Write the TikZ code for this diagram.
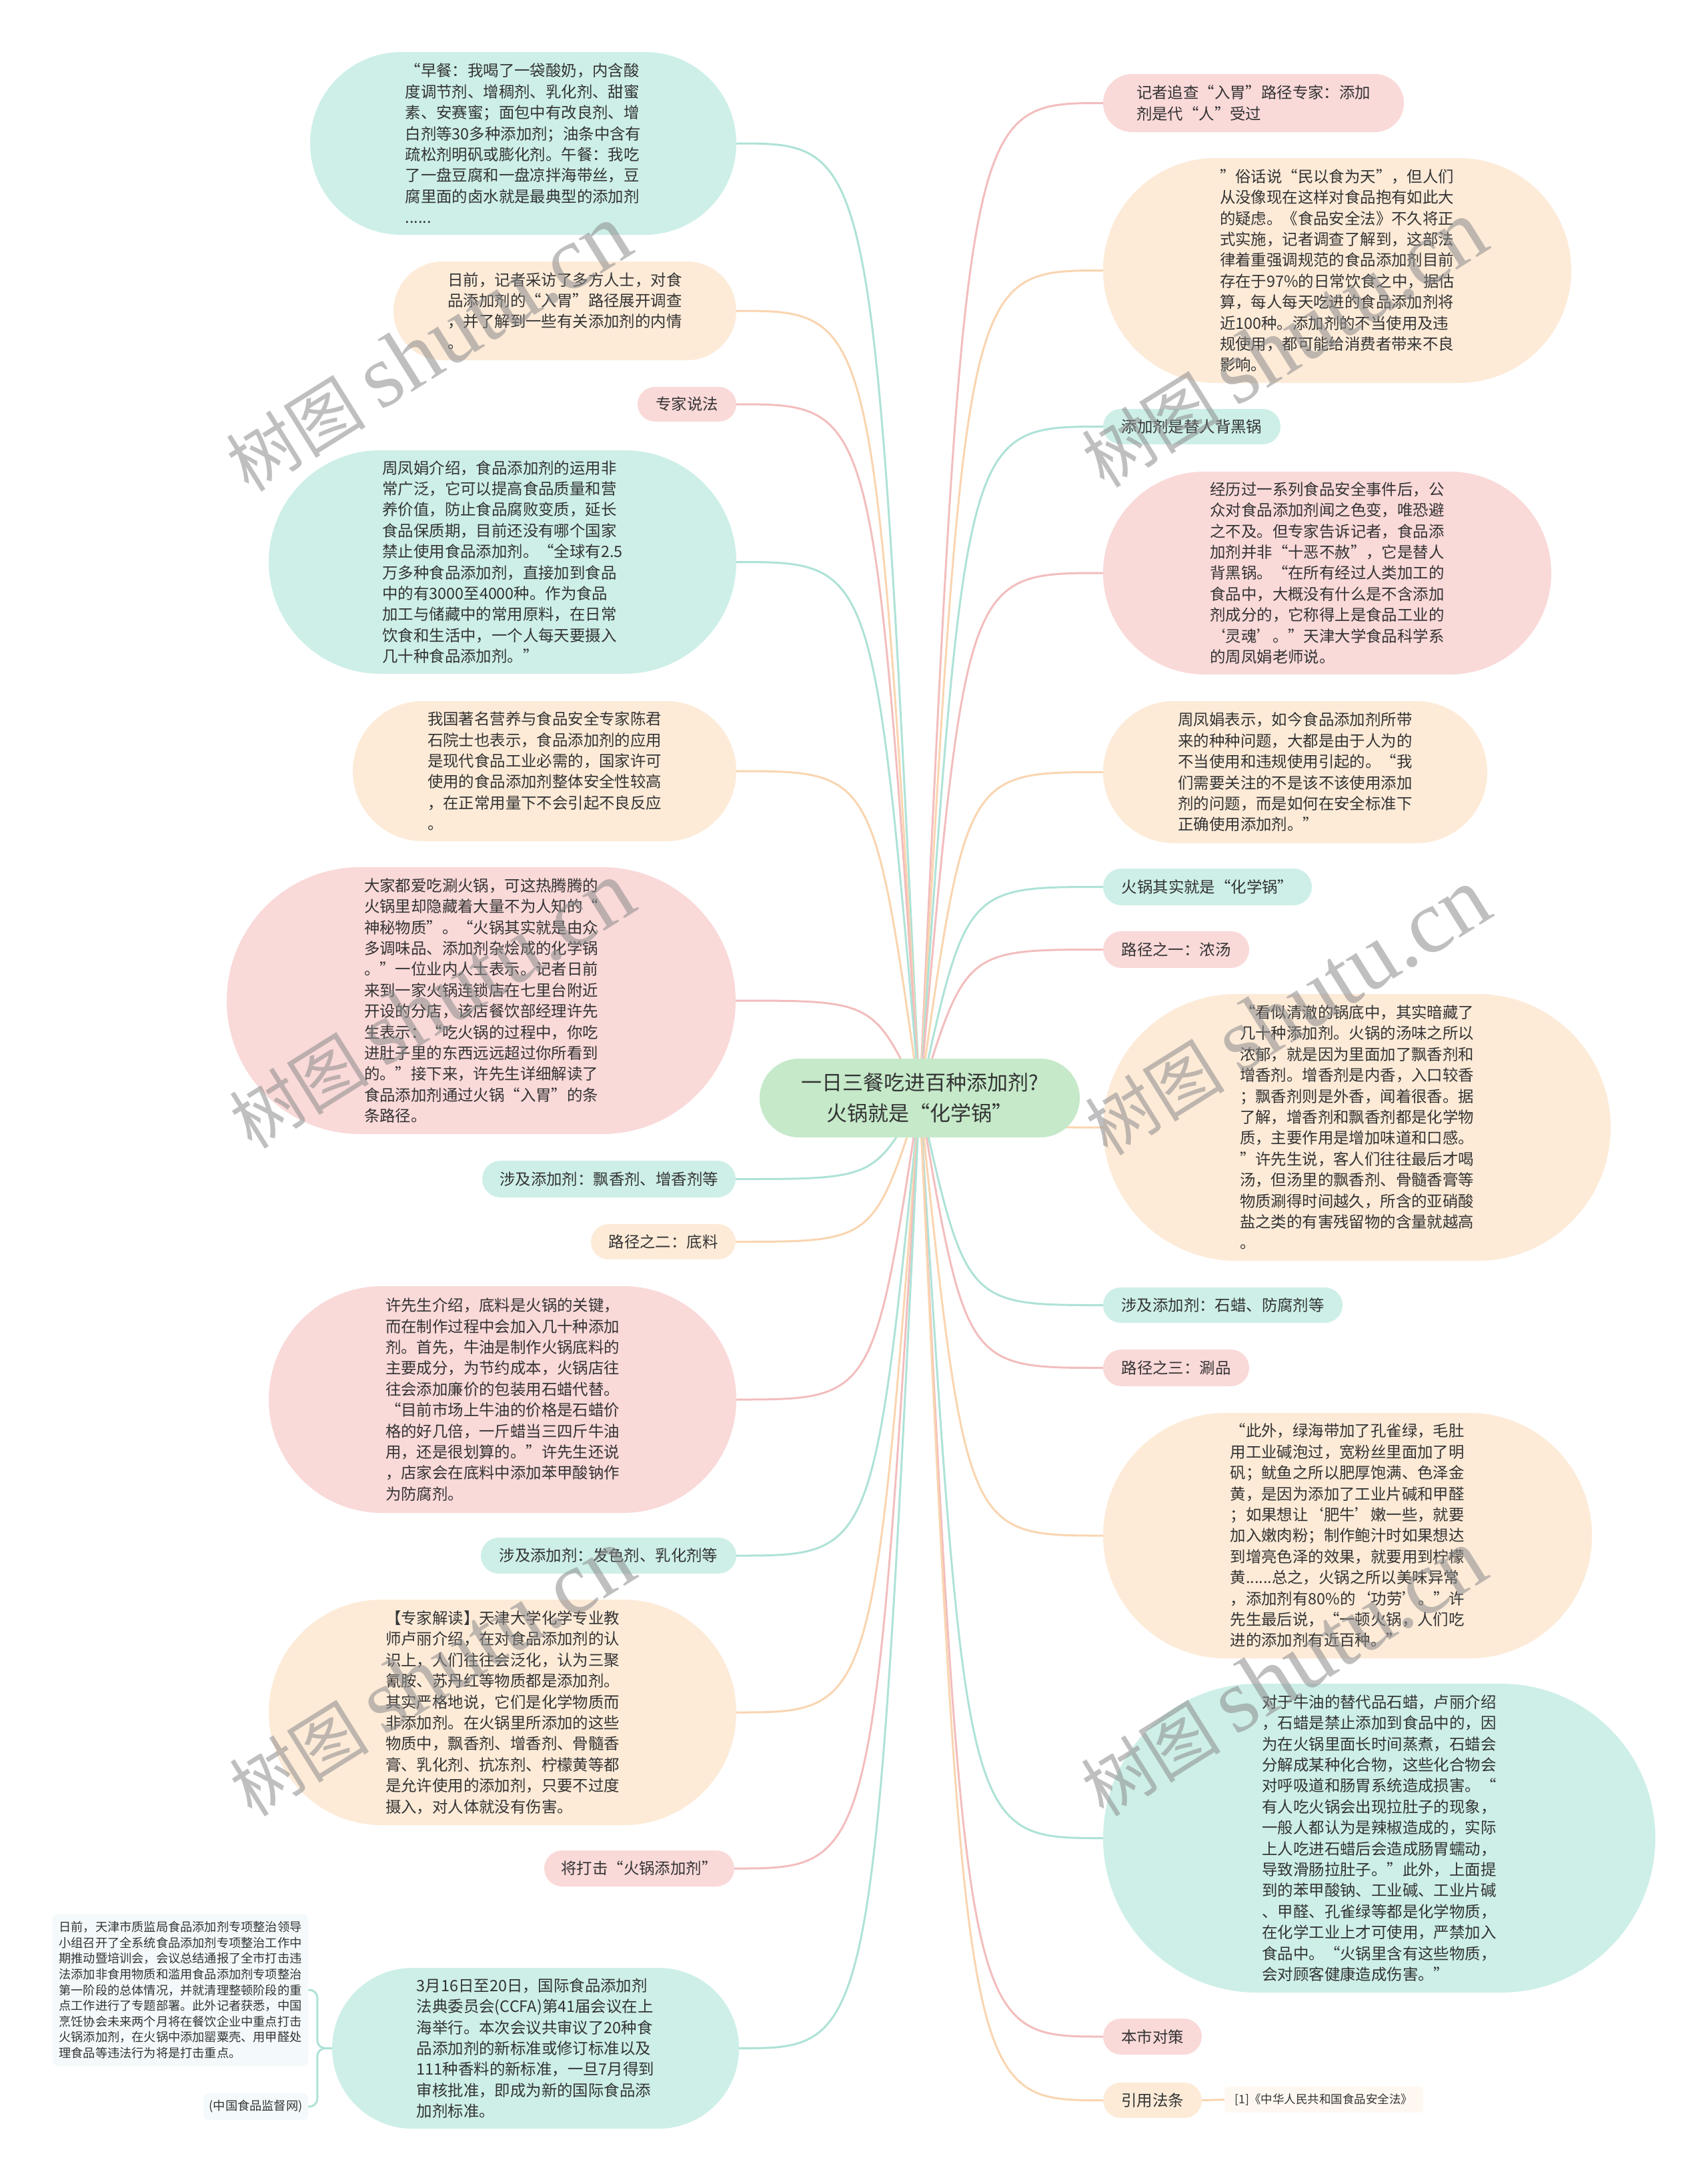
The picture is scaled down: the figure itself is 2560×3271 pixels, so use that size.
\documentclass[tikz,border=0pt]{standalone}
\usepackage{fontspec}
\setmainfont{Noto Sans CJK SC}
\newfontfamily\wmlat{Liberation Serif}
\usetikzlibrary{shapes.misc}
\definecolor{tealF}{HTML}{CDEFE8}
\definecolor{peachF}{HTML}{FDEBD8}
\definecolor{pinkF}{HTML}{FAD9D9}
\definecolor{rootF}{HTML}{C5E9C9}
\definecolor{tealL}{HTML}{AEE2D7}
\definecolor{peachL}{HTML}{F9D5B0}
\definecolor{pinkL}{HTML}{F3BDBD}
\definecolor{txt}{HTML}{333333}
\definecolor{noteF}{HTML}{F4FAFB}
\definecolor{refF}{HTML}{FFF8F1}
\newcommand\mybody{\fontsize{23.4}{31.4}\selectfont}
\newcommand\myroot{\fontsize{31}{46}\selectfont}
\newcommand\mysmall{\fontsize{18.2}{23.6}\selectfont}
\pgfdeclarelayer{back}
\pgfdeclarelayer{links}
\pgfsetlayers{back,links,main}
\begin{document}
\begin{tikzpicture}[x=1pt,y=-1pt,
  bub/.style 2 args={rounded rectangle, inner sep=0pt, minimum width=#1, minimum height=#2, align=left, font=\mybody, text=txt},
  link/.style={line width=3pt},
  note/.style={inner sep=0pt, rounded corners=8pt, fill=noteF, text=txt, font=\mysmall}]
\begin{pgfonlayer}{back}
\fill[white] (0,0) rectangle (2560,3271);
\end{pgfonlayer}
\useasboundingbox (0,0) rectangle (2560,3271);

% root
\node[rounded rectangle, fill=rootF, minimum width=480, minimum height=118, inner sep=0pt, align=center, font=\myroot, text=txt] (root) at (1379,1646) {一日三餐吃进百种添加剂?\\火锅就是“化学锅”};

% left side
\node[bub={639}{274}, fill=tealF] (L1) at (784.5,215) {“早餐：我喝了一袋酸奶，内含酸\\度调节剂、增稠剂、乳化剂、甜蜜\\素、安赛蜜；面包中有改良剂、增\\白剂等30多种添加剂；油条中含有\\疏松剂明矾或膨化剂。午餐：我吃\\了一盘豆腐和一盘凉拌海带丝，豆\\腐里面的卤水就是最典型的添加剂\\......};
\node[bub={514}{148}, fill=peachF] (L2) at (847,466) {日前，记者采访了多方人士，对食\\品添加剂的“入胃”路径展开调查\\，并了解到一些有关添加剂的内情\\。};
\node[bub={148}{52}, fill=pinkF] (L3) at (1030,606) {专家说法};
\node[bub={701}{335}, fill=tealF] (L4) at (753.5,842.5) {周凤娟介绍，食品添加剂的运用非\\常广泛，它可以提高食品质量和营\\养价值，防止食品腐败变质，延长\\食品保质期，目前还没有哪个国家\\禁止使用食品添加剂。“全球有2.5\\万多种食品添加剂，直接加到食品\\中的有3000至4000种。作为食品\\加工与储藏中的常用原料，在日常\\饮食和生活中，一个人每天要摄入\\几十种食品添加剂。”};
\node[bub={575}{210}, fill=peachF] (L5) at (816.5,1156) {我国著名营养与食品安全专家陈君\\石院士也表示，食品添加剂的应用\\是现代食品工业必需的，国家许可\\使用的食品添加剂整体安全性较高\\，在正常用量下不会引起不良反应\\。};
\node[bub={763}{400}, fill=pinkF] (L6) at (721.5,1500) {大家都爱吃涮火锅，可这热腾腾的\\火锅里却隐藏着大量不为人知的“\\神秘物质”。“火锅其实就是由众\\多调味品、添加剂杂烩成的化学锅\\。”一位业内人士表示。记者日前\\来到一家火锅连锁店在七里台附近\\开设的分店，该店餐饮部经理许先\\生表示：“吃火锅的过程中，你吃\\进肚子里的东西远远超过你所看到\\的。”接下来，许先生详细解读了\\食品添加剂通过火锅“入胃”的条\\条路径。};
\node[bub={380}{55}, fill=tealF] (L7) at (913,1767.5) {涉及添加剂：飘香剂、增香剂等};
\node[bub={217}{53}, fill=peachF] (L8) at (994.5,1861.5) {路径之二：底料};
\node[bub={701}{340}, fill=pinkF] (L9) at (753.5,2098) {许先生介绍，底料是火锅的关键，\\而在制作过程中会加入几十种添加\\剂。首先，牛油是制作火锅底料的\\主要成分，为节约成本，火锅店往\\往会添加廉价的包装用石蜡代替。\\“目前市场上牛油的价格是石蜡价\\格的好几倍，一斤蜡当三四斤牛油\\用，还是很划算的。”许先生还说\\，店家会在底料中添加苯甲酸钠作\\为防腐剂。};
\node[bub={383}{54}, fill=tealF] (L10) at (912.5,2332) {涉及添加剂：发色剂、乳化剂等};
\node[bub={701}{338}, fill=peachF] (L11) at (753.5,2567) {【专家解读】天津大学化学专业教\\师卢丽介绍，在对食品添加剂的认\\识上，人们往往会泛化，认为三聚\\氰胺、苏丹红等物质都是添加剂。\\其实严格地说，它们是化学物质而\\非添加剂。在火锅里所添加的这些\\物质中，飘香剂、增香剂、骨髓香\\膏、乳化剂、抗冻剂、柠檬黄等都\\是允许使用的添加剂，只要不过度\\摄入，对人体就没有伤害。};
\node[bub={285}{54}, fill=pinkF] (L12) at (958.5,2801) {将打击“火锅添加剂”};
\node[bub={610}{241}, fill=tealF] (L13) at (803,3070.5) {3月16日至20日，国际食品添加剂\\法典委员会(CCFA)第41届会议在上\\海举行。本次会议共审议了20种食\\品添加剂的新标准或修订标准以及\\111种香料的新标准，一旦7月得到\\审核批准，即成为新的国际食品添\\加剂标准。};
\node[note, minimum width=383, minimum height=228, align=left] (S1) at (270.5,2983) {日前，天津市质监局食品添加剂专项整治领导\\小组召开了全系统食品添加剂专项整治工作中\\期推动暨培训会，会议总结通报了全市打击违\\法添加非食用物质和滥用食品添加剂专项整治\\第一阶段的总体情况，并就清理整顿阶段的重\\点工作进行了专题部署。此外记者获悉，中国\\烹饪协会未来两个月将在餐饮企业中重点打击\\火锅添加剂，在火锅中添加罂粟壳、用甲醛处\\理食品等违法行为将是打击重点。};
\node[note, minimum width=157, minimum height=40] (S2) at (383.5,3158) {(中国食品监督网)};

% right side
\node[bub={451}{87}, fill=pinkF] (R1) at (1879.5,154.5) {记者追查“入胃”路径专家：添加\\剂是代“人”受过};
\node[bub={702}{337}, fill=peachF] (R2) at (2005,405.5) {”俗话说“民以食为天”，但人们\\从没像现在这样对食品抱有如此大\\的疑虑。《食品安全法》不久将正\\式实施，记者调查了解到，这部法\\律着重强调规范的食品添加剂目前\\存在于97\%的日常饮食之中，据估\\算，每人每天吃进的食品添加剂将\\近100种。添加剂的不当使用及违\\规使用，都可能给消费者带来不良\\影响。};
\node[bub={266}{53}, fill=tealF] (R3) at (1787,639.5) {添加剂是替人背黑锅};
\node[bub={672}{304}, fill=pinkF] (R4) at (1990,859) {经历过一系列食品安全事件后，公\\众对食品添加剂闻之色变，唯恐避\\之不及。但专家告诉记者，食品添\\加剂并非“十恶不赦”，它是替人\\背黑锅。“在所有经过人类加工的\\食品中，大概没有什么是不含添加\\剂成分的，它称得上是食品工业的\\‘灵魂’。”天津大学食品科学系\\的周凤娟老师说。};
\node[bub={576}{213}, fill=peachF] (R5) at (1942,1157.5) {周凤娟表示，如今食品添加剂所带\\来的种种问题，大都是由于人为的\\不当使用和违规使用引起的。“我\\们需要关注的不是该不该使用添加\\剂的问题，而是如何在安全标准下\\正确使用添加剂。”};
\node[bub={313}{55}, fill=tealF] (R6) at (1810.5,1329.5) {火锅其实就是“化学锅”};
\node[bub={219}{55}, fill=pinkF] (R7) at (1763.5,1423.5) {路径之一：浓汤};
\node[bub={761}{400}, fill=peachF] (R8) at (2034.5,1690) {“看似清澈的锅底中，其实暗藏了\\几十种添加剂。火锅的汤味之所以\\浓郁，就是因为里面加了飘香剂和\\增香剂。增香剂是内香，入口较香\\；飘香剂则是外香，闻着很香。据\\了解，增香剂和飘香剂都是化学物\\质，主要作用是增加味道和口感。\\”许先生说，客人们往往最后才喝\\汤，但汤里的飘香剂、骨髓香膏等\\物质涮得时间越久，所含的亚硝酸\\盐之类的有害残留物的含量就越高\\。};
\node[bub={359}{53}, fill=tealF] (R9) at (1833.5,1956.5) {涉及添加剂：石蜡、防腐剂等};
\node[bub={219}{55}, fill=pinkF] (R10) at (1763.5,2050.5) {路径之三：涮品};
\node[bub={733}{368}, fill=peachF] (R11) at (2020.5,2302) {“此外，绿海带加了孔雀绿，毛肚\\用工业碱泡过，宽粉丝里面加了明\\矾；鱿鱼之所以肥厚饱满、色泽金\\黄，是因为添加了工业片碱和甲醛\\；如果想让‘肥牛’嫩一些，就要\\加入嫩肉粉；制作鲍汁时如果想达\\到增亮色泽的效果，就要用到柠檬\\黄......总之，火锅之所以美味异常\\，添加剂有80\%的‘功劳’。”许\\先生最后说，“一顿火锅，人们吃\\进的添加剂有近百种。”};
\node[bub={828}{463}, fill=tealF] (R12) at (2068,2755.5) {对于牛油的替代品石蜡，卢丽介绍\\，石蜡是禁止添加到食品中的，因\\为在火锅里面长时间蒸煮，石蜡会\\分解成某种化合物，这些化合物会\\对呼吸道和肠胃系统造成损害。“\\有人吃火锅会出现拉肚子的现象，\\一般人都认为是辣椒造成的，实际\\上人吃进石蜡后会造成肠胃蠕动，\\导致滑肠拉肚子。”此外，上面提\\到的苯甲酸钠、工业碱、工业片碱\\、甲醛、孔雀绿等都是化学物质，\\在化学工业上才可使用，严禁加入\\食品中。“火锅里含有这些物质，\\会对顾客健康造成伤害。”};
\node[bub={148}{54}, fill=pinkF] (R13) at (1728,3053) {本市对策};
\node[bub={148}{53}, fill=peachF] (R14) at (1728,3148.5) {引用法条};
\node[inner sep=0pt, rounded corners=6pt, fill=refF, text=txt, font=\fontsize{17.5}{21}\selectfont, minimum width=298, minimum height=39] (R15) at (1985,3147.5) {[1]《中华人民共和国食品安全法》};

% connectors
\begin{pgfonlayer}{links}
\coordinate (cL) at (1310,0);
\coordinate (cR) at (1448,0);
\foreach \n/\c in {L1/tealL,L2/peachL,L3/pinkL,L4/tealL,L5/peachL,L6/pinkL,L7/tealL,L8/peachL,L9/pinkL,L10/tealL,L11/peachL,L12/pinkL,L13/tealL}
  \draw[link,\c] (root.center) .. controls (\n.east -| cL) .. (\n.east);
\foreach \n/\c in {R1/pinkL,R2/peachL,R3/tealL,R4/pinkL,R5/peachL,R6/tealL,R7/pinkL,R8/peachL,R9/tealL,R10/pinkL,R11/peachL,R12/tealL,R13/pinkL,R14/peachL}
  \draw[link,\c] (root.center) .. controls (\n.west -| cR) .. (\n.west);
\draw[link,tealL,rounded corners=12pt] (L13.west) -- ++(-22,0) |- (S1.east);
\draw[link,tealL,rounded corners=12pt] (L13.west) -- ++(-22,0) |- (S2.east);
\draw[link,peachL] (R14.east) -- (R15.west);
\end{pgfonlayer}

% watermarks
\foreach \x/\y [count=\i] in {642/522,1925/516,647/1507,1930/1517,647/2508,1924/2508}
  \node[rotate=32, text=black!45, opacity=0.55, inner sep=0pt] (wm\i) at (\x,\y) {\fontsize{105}{105}\selectfont 树图\hspace{22pt}{\wmlat\fontsize{135}{135}\selectfont shutu.cn}};
\end{tikzpicture}
\end{document}
